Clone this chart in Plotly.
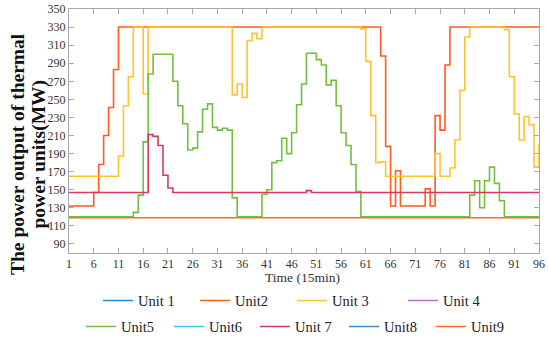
import plotly.graph_objects as go

time = list(range(1, 97))

unit1 = [None]
unit4 = [None]
unit6 = [None]
unit8 = [None]

unit2 = ([132] * 5 + [147, 178, 210, 241, 283] + [330] * 53 +
         [298, 198, 132, 171] + [132] * 5 + [151, 132, 232, 216, 288] + [330] * 19)

unit3 = ([165] * 10 + [187, 243, 275, 330, 330, 256] + [330] * 17 +
         [255, 267, 252, 315, 323, 317] + [330] * 20 +
         [328, 292, 232, 180, 181] + [165] * 10 + [190, 165, 165, 174, 205, 260, 319] +
         [330] * 7 + [327, 275, 234, 205, 231, 222, 175, 200])

unit5 = ([120] * 13 + [125, 144, 203, 278, 300, 300, 300, 300, 270, 243, 223, 194, 196,
                       214, 239, 245, 219, 216, 218, 216, 141] + [120] * 5 +
         [145, 150, 180, 182, 207, 190, 213, 244, 267, 301, 301, 294, 288, 266, 271,
          243, 213, 199, 178, 148] + [120] * 22 +
         [144, 160, 130, 160, 175, 157, 138] + [120] * 8)

unit7 = ([147] * 16 + [211, 209, 199, 166, 152] + [147] * 27 + [149] + [147] * 47)

unit9 = [119] * 96

names = ["Unit 1", "Unit2", "Unit 3", "Unit 4", "Unit5", "Unit6", "Unit 7", "Unit8", "Unit9"]
series = [unit1, unit2, unit3, unit4, unit5, unit6, unit7, unit8, unit9]
colors = ["#1E88E5", "#FF5A1F", "#FFC330", "#B570C8", "#72BF3F",
          "#3CC8F0", "#D63A5E", "#3A8BD0", "#FF6A2E"]

y_ticks = list(range(90, 351, 20))
x_ticks = list(range(1, 97, 5))

# plot-area geometry in pixels
W, H = 550, 342
L, R, T, B = 69, 11, 9, 89
PW, PH = W - L - R, H - T - B

def px_x(p):
    return (p - L) / PW

def px_y(p):
    return (H - B - p) / PH

# legend item left edges (px) and row tops (px)
leg_left = [98, 195, 292, 403, 81, 169, 255, 344, 431]
leg_top = [284.5] * 4 + [310.5] * 5

fig = go.Figure()
legend_layouts = {}
for i, (name, vals, col) in enumerate(zip(names, series, colors)):
    lid = "legend" if i == 0 else f"legend{i + 1}"
    xs = time[:len(vals)] if vals[0] is not None else [None]
    fig.add_trace(go.Scatter(
        x=xs, y=vals, name=name, mode="lines", line_shape="hv",
        line=dict(color=col, width=1.6), legend=lid, showlegend=True,
    ))
    legend_layouts[lid] = dict(
        orientation="h", x=px_x(leg_left[i]), y=px_y(leg_top[i]),
        xanchor="left", yanchor="top", itemwidth=30,
        font=dict(family="Liberation Serif", size=14.5, color="#222222"),
        bgcolor="rgba(0,0,0,0)",
    )

font_family = "Liberation Serif"
axis_common = dict(
    showgrid=False, zeroline=False, showline=True, linecolor="#A8A8A8", linewidth=1,
    mirror="ticks", ticks="inside", ticklen=5, tickcolor="#A8A8A8",
    tickfont=dict(family=font_family, size=12, color="#333333"),
    automargin=False,
)

fig.update_layout(
    width=W, height=H,
    showlegend=True,
    margin=dict(l=L, r=R, t=T, b=B, autoexpand=False),
    paper_bgcolor="white", plot_bgcolor="white",
    font=dict(family=font_family),
    xaxis=dict(range=[1, 96], tickvals=x_ticks, ticktext=[str(v) for v in x_ticks],
               **axis_common),
    yaxis=dict(range=[80, 350], tickvals=y_ticks, ticktext=[str(v) for v in y_ticks],
               **axis_common),
    annotations=[
        dict(text="<b>The power output of thermal</b>", xref="paper", yref="paper",
             x=px_x(18), y=px_y(154), xanchor="center", yanchor="middle",
             textangle=-90, showarrow=False,
             font=dict(family=font_family, size=19.5, color="#111111")),
        dict(text="<b>power units(MW)</b>", xref="paper", yref="paper",
             x=px_x(38.5), y=px_y(154), xanchor="center", yanchor="middle",
             textangle=-90, showarrow=False,
             font=dict(family=font_family, size=19.5, color="#111111")),
        dict(text="Time (15min)", xref="paper", yref="paper",
             x=px_x(302), y=px_y(277), xanchor="center", yanchor="middle",
             showarrow=False,
             font=dict(family=font_family, size=13.5, color="#333333")),
    ],
    **legend_layouts,
)

fig.write_html("out.html", config={"displayModeBar": False},
               post_script="document.body.style.margin='0';")
